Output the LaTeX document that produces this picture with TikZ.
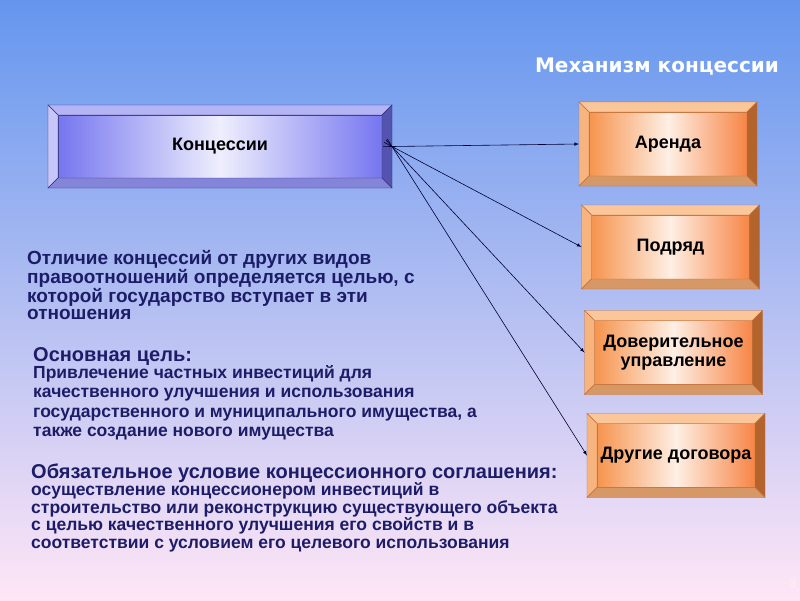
\documentclass[tikz,border=0pt]{standalone}
\usepackage{fontspec}
\setmainfont{Liberation Sans}
\newfontfamily\titlefont{DejaVu Sans}
\usetikzlibrary{calc,positioning}

\definecolor{bgtop}{RGB}{100,150,238}
\definecolor{bgmid}{RGB}{176,190,246}
\definecolor{bgbot}{RGB}{255,230,246}
\definecolor{navytext}{RGB}{28,28,104}
\definecolor{bl-face}{RGB}{118,118,240}
\definecolor{bl-top}{RGB}{180,180,244}
\definecolor{bl-left}{RGB}{198,198,250}
\definecolor{bl-right}{RGB}{84,84,176}
\definecolor{bl-bot}{RGB}{132,132,216}
\definecolor{bl-line}{RGB}{50,50,130}
\definecolor{or-face}{RGB}{246,148,78}
\definecolor{or-top}{RGB}{250,198,154}
\definecolor{or-left}{RGB}{248,180,126}
\definecolor{or-right}{RGB}{178,100,44}
\definecolor{or-bot}{RGB}{214,152,102}
\definecolor{or-line}{RGB}{196,112,56}

\tikzset{
  face/.style={rectangle, outer sep=10pt, inner sep=2pt, align=center,
    font=\fontsize{18}{19}\selectfont\bfseries},
  bluebox/.style={face, draw=bl-line, minimum width=324pt, minimum height=63pt,
    left color=bl-face, right color=bl-face, middle color=white!88!bl-face},
  orbox/.style={face, draw=or-line, minimum width=158pt, minimum height=64pt,
    left color=or-face, right color=or-face!90!red, middle color=white!85!or-face},
  txt/.style={anchor=north west, inner sep=0pt, align=left, text=navytext},
  arr/.style={-latex, draw=black!80!blue, line width=0.6pt, shorten <=-9pt}
}

\begin{document}
\begin{tikzpicture}[x=1pt, y=-1pt]

  \pgfmathsetmacro{\bev}{10}

  \useasboundingbox (0,0) rectangle (800,600);
  \shade[top color=bgtop, middle color=bgmid, bottom color=bgbot] (0,0) rectangle (800,600);

  \node[text=white, font=\titlefont\fontsize{20}{22}\selectfont\bfseries] (title) at (657,67) {Механизм концессии};

  \node[bluebox] (konc) at (220,146.5) {Концессии};
  \node[orbox] (arenda) at (668,144) {Аренда};
  \node[orbox] (podryad) at (670.5,247) {Подряд};
  \node[orbox] (dover) at (673.5,352.5) {Доверительное\\управление};
  \node[orbox] (drugie) at (676,455.5) {Другие договора};

  \foreach \n/\f in {konc/bl, arenda/or, podryad/or, dover/or, drugie/or}
  {
    \draw[draw=\f-line, fill=\f-top] (\n.north west) -- (\n.north east)
      -- ($(\n.north east)+(-\bev,\bev)$) -- ($(\n.north west)+(\bev,\bev)$) -- cycle;
    \draw[draw=\f-line, fill=\f-left] (\n.north west) -- (\n.south west)
      -- ($(\n.south west)+(\bev,-\bev)$) -- ($(\n.north west)+(\bev,\bev)$) -- cycle;
    \draw[draw=\f-line, fill=\f-right] (\n.north east) -- (\n.south east)
      -- ($(\n.south east)+(-\bev,-\bev)$) -- ($(\n.north east)+(-\bev,\bev)$) -- cycle;
    \draw[draw=\f-line, fill=\f-bot] (\n.south west) -- (\n.south east)
      -- ($(\n.south east)+(-\bev,-\bev)$) -- ($(\n.south west)+(\bev,-\bev)$) -- cycle;
  }

  \foreach \t in {arenda,podryad,dover,drugie}
  {
    \draw[arr] (konc.east) -- (\t.west);
  }

  \node[txt, font=\fontsize{19}{17.3}\selectfont\bfseries] (diff) at (27,250)
    {Отличие концессий от других видов\\правоотношений определяется целью, с\\которой государство вступает в эти\\отношения};

  \node[txt, font=\fontsize{20}{20}\selectfont\bfseries] (goalhead) at (33,347) {Основная цель:};
  \node[txt, font=\fontsize{17.5}{19.3}\selectfont\bfseries, below=0pt of goalhead.south west, anchor=north west] (goaltext)
    {Привлечение частных инвестиций для\\качественного улучшения и использования\\государственного и муниципального имущества, а\\также создание нового имущества};

  \node[txt, font=\fontsize{20}{20}\selectfont\bfseries] (condhead) at (31,463.5) {Обязательное условие концессионного соглашения:};
  \node[txt, font=\fontsize{17.5}{17.4}\selectfont\bfseries, below=0pt of condhead.south west, anchor=north west] (condtext)
    {осуществление концессионером инвестиций в\\строительство или реконструкцию существующего объекта\\с целью качественного улучшения его свойств и в\\соответствии с условием его целевого использования};

  \node[text=white!80!pink, font=\fontsize{11}{12}\selectfont] (slidenum) at (793,584) {3};

\end{tikzpicture}
\end{document}
